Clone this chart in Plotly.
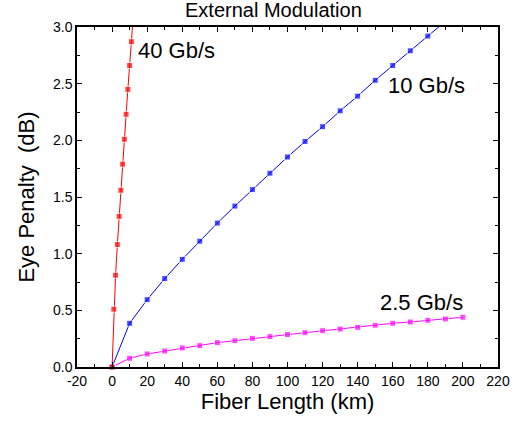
import numpy as np
import plotly.graph_objects as go

# 40 Gb/s
x40 = [0, 1, 2, 3, 4, 5, 6, 7, 8, 9, 10, 11, 12]
y40 = [0.0, 0.51, 0.81, 1.08, 1.33, 1.56, 1.79, 2.01, 2.23, 2.45, 2.66, 2.87, 3.08]

# 10 Gb/s
x10 = [0, 10, 20, 30, 40, 50, 60, 70, 80, 90, 100, 110, 120, 130, 140, 150, 160, 170, 180, 190]
y10 = [0.0, 0.386, 0.594, 0.78, 0.95, 1.11, 1.27, 1.42, 1.565, 1.71, 1.853, 1.99, 2.12, 2.26,
       2.39, 2.53, 2.66, 2.79, 2.92, 3.05]

# 2.5 Gb/s
x25 = [0, 10, 20, 30, 40, 50, 60, 70, 80, 90, 100, 110, 120, 130, 140, 150, 160, 170, 180, 190, 200]
y25 = [0.0, 0.077, 0.115, 0.141, 0.168, 0.188, 0.215, 0.232, 0.253, 0.268, 0.286, 0.303, 0.32,
       0.335, 0.35, 0.368, 0.386, 0.397, 0.412, 0.424, 0.439]

labels = ["40 Gb/s", "10 Gb/s", "2.5 Gb/s"]
label_x = [36.5, 179.5, 176.5]
label_y = [2.79, 2.48, 0.565]

x_ticks = list(range(-20, 221, 20))
y_ticks = [0.0, 0.5, 1.0, 1.5, 2.0, 2.5, 3.0]

title = "External Modulation"
xtitle = "Fiber Length (km)"
ytitle = "Eye Penalty \u00a0(dB)"

YMAX = 3.0
FONT = "Arial, 'Liberation Sans', sans-serif"

fig = go.Figure()

def add(xs, ys, color):
    ys = np.array(ys)
    sizes = np.where(ys <= YMAX, 6, 0)
    fig.add_trace(go.Scatter(
        x=xs, y=ys, mode="lines+markers",
        line=dict(color=color, width=1),
        marker=dict(symbol="square", size=sizes, color=color),
        cliponaxis=False, showlegend=False))

add(x25, y25, "#ff00ff")
add(x10, y10, "#0000ff")
add(x40, y40, "#ff0000")

for t, lx, ly in zip(labels, label_x, label_y):
    fig.add_annotation(x=lx, y=ly, xref="x", yref="y", text=t, showarrow=False,
                       font=dict(family=FONT, size=22, color="black"))

fig.add_annotation(x=(276 - 77) / 426, y=(367 - 10) / 340, xref="paper", yref="paper", text=title,
                   showarrow=False, xanchor="center", yanchor="middle",
                   font=dict(family=FONT, size=20, color="black"))

axis_common = dict(
    showgrid=False, zeroline=False, showline=True, linecolor="black", linewidth=1.5,
    mirror="ticks", ticks="inside", ticklen=5, tickwidth=1, tickcolor="black",
    tickfont=dict(family=FONT, size=14, color="black"),
)

fig.update_xaxes(range=[-20, 220], tickmode="array", tickvals=x_ticks,
                 ticktext=[str(v) for v in x_ticks],
                 minor=dict(ticks="inside", dtick=10, tick0=0, ticklen=3, tickcolor="black"),
                 title=dict(text=xtitle, font=dict(family=FONT, size=22, color="black"), standoff=4),
                 **axis_common)
fig.update_yaxes(range=[0, 3.0], tickmode="array", tickvals=y_ticks,
                 ticktext=[f"{v:.1f}" for v in y_ticks],
                 minor=dict(ticks="inside", dtick=0.25, tick0=0, ticklen=3, tickcolor="black"),
                 title=dict(text=ytitle, font=dict(family=FONT, size=22, color="black"), standoff=12),
                 **axis_common)

fig.update_layout(
    width=522, height=423,
    margin=dict(l=77, r=19, t=27, b=56, pad=0),
    paper_bgcolor="white", plot_bgcolor="white",
    font=dict(family=FONT, color="black"),
)

fig.write_html("out.html")
